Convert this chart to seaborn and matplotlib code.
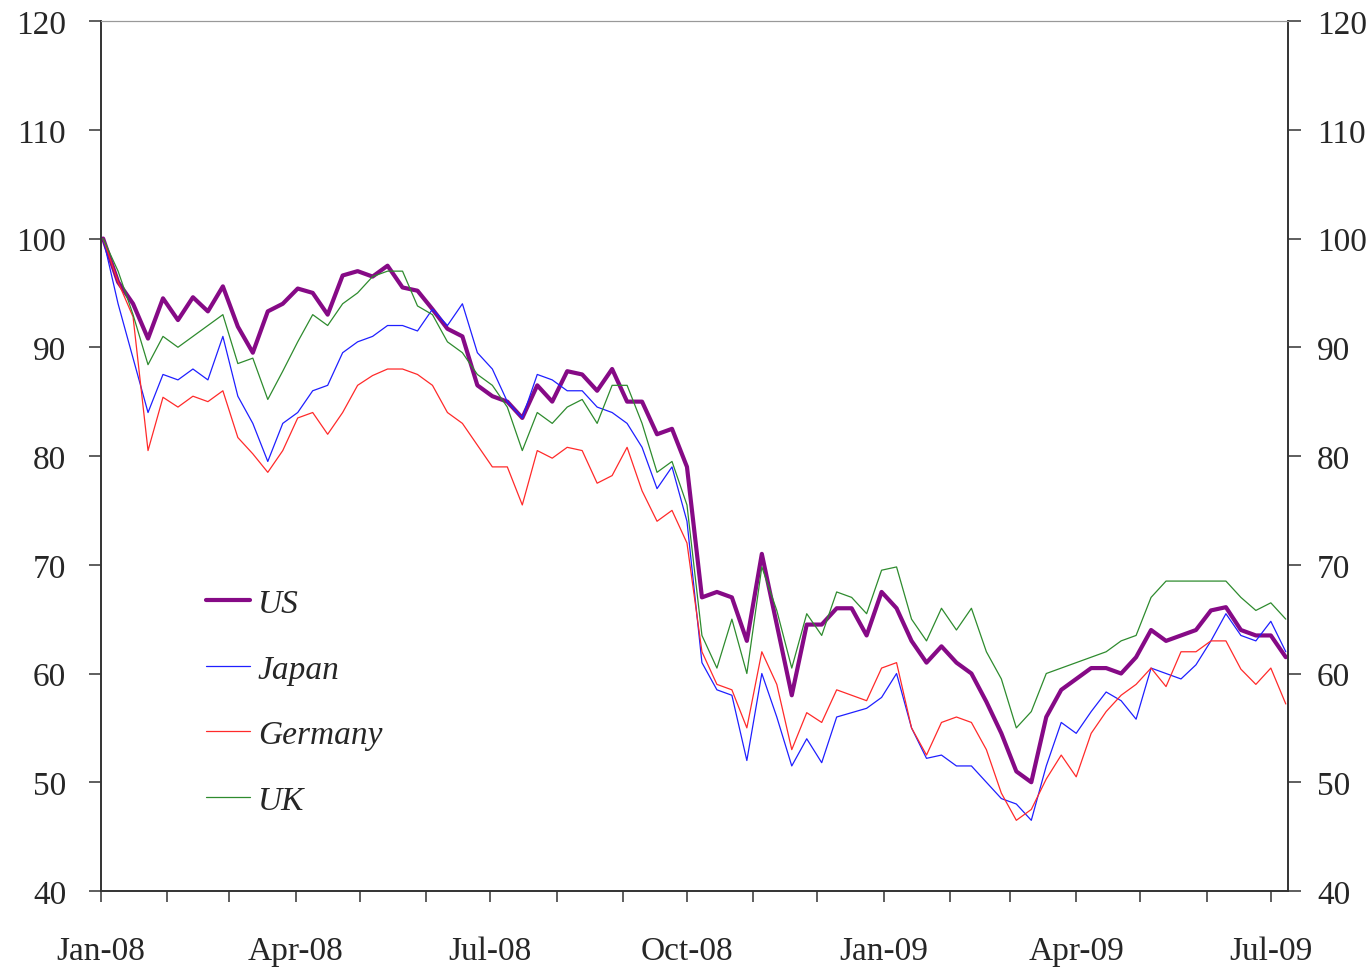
import numpy as np
import pandas as pd
import matplotlib
matplotlib.use("Agg")
import matplotlib.pyplot as plt
import matplotlib.dates as mdates
import seaborn as sns

# weekly readings, index 2 Jan 2008 = 100
dates = pd.date_range("2008-01-02", periods=80, freq="7D")

us = [100, 96, 94, 90.8, 94.5, 92.5, 94.6, 93.3, 95.6, 91.9, 89.5, 93.3, 94, 95.4,
      95, 93, 96.6, 97, 96.5, 97.5, 95.5, 95.2, 93.5, 91.7, 91, 86.5, 85.5,
      85, 83.5, 86.5, 85, 87.8, 87.5, 86, 88, 85, 85, 82, 82.5, 79,
      67, 67.5, 67, 63, 71, 64.5, 58, 64.5, 64.5, 66, 66, 63.5, 67.5,
      66, 63, 61, 62.5, 61, 60, 57.4, 54.5, 51, 50, 56, 58.5, 59.5,
      60.5, 60.5, 60, 61.5, 64, 63, 63.5, 64, 65.8, 66.1, 64, 63.5, 63.5, 61.5]

japan = [100, 94, 89, 84, 87.5, 87, 88, 87, 91, 85.5, 83, 79.5, 83, 84,
         86, 86.5, 89.5, 90.5, 91, 92, 92, 91.5, 93.5, 92, 94, 89.5, 88,
         85, 83.5, 87.5, 87, 86, 86, 84.5, 84, 83, 80.8, 77, 79, 74,
         61, 58.5, 58, 52, 60, 56, 51.5, 54, 51.8, 56, 56.4, 56.8, 57.8,
         60, 55, 52.2, 52.5, 51.5, 51.5, 50, 48.5, 48, 46.5, 51.5, 55.5, 54.5,
         56.5, 58.3, 57.5, 55.8, 60.5, 60, 59.5, 60.8, 63, 65.5, 63.5, 63, 64.8, 62]

germany = [100, 96, 92.8, 80.5, 85.4, 84.5, 85.5, 85, 86, 81.7, 80.2, 78.5, 80.5, 83.5,
           84, 82, 84, 86.5, 87.4, 88, 88, 87.5, 86.5, 84, 83, 81, 79,
           79, 75.5, 80.5, 79.8, 80.8, 80.5, 77.5, 78.2, 80.8, 76.8, 74, 75, 72,
           62, 59, 58.5, 55, 62, 59, 53, 56.4, 55.5, 58.5, 58, 57.5, 60.5,
           61, 55, 52.5, 55.5, 56, 55.5, 53, 49, 46.5, 47.5, 50.3, 52.5, 50.5,
           54.5, 56.5, 58, 59, 60.5, 58.8, 62, 62, 63, 63, 60.4, 59, 60.5, 57.2]

uk = [100, 97, 93, 88.4, 91, 90, 91, 92, 93, 88.5, 89, 85.2, 87.8, 90.5,
      93, 92, 94, 95, 96.5, 97, 97, 93.8, 93, 90.5, 89.5, 87.5, 86.5,
      84.5, 80.5, 84, 83, 84.5, 85.2, 83, 86.5, 86.5, 83, 78.5, 79.5, 75.5,
      63.5, 60.5, 65, 60, 69.8, 65.8, 60.5, 65.5, 63.5, 67.5, 67, 65.5, 69.5,
      69.8, 65, 63, 66, 64, 66, 62, 59.5, 55, 56.5, 60, 60.5, 61,
      61.5, 62, 63, 63.5, 67, 68.5, 68.5, 68.5, 68.5, 68.5, 67, 65.8, 66.5, 65]

series = {"US": us, "Japan": japan, "Germany": germany, "UK": uk}
colors = {"US": "#860a86", "Japan": "#1f1fff", "Germany": "#ff2a2a", "UK": "#2e8b2e"}
widths = {"US": 3.0, "Japan": 0.9, "Germany": 0.9, "UK": 0.9}

sns.set_style("ticks")
plt.rcParams["font.family"] = ["Liberation Serif", "DejaVu Serif"]

fig = plt.figure(figsize=(13.7, 9.7), dpi=100)
ax = fig.add_axes([0.0737, 0.0804, 0.8664, 0.8969])

for name, vals in series.items():
    sns.lineplot(x=dates, y=vals, ax=ax, color=colors[name],
                 linewidth=widths[name], label=name)

ax.set_ylim(40, 120)
ax.set_yticks(np.arange(40, 121, 10))
ax.set_xlim(pd.Timestamp("2008-01-01"), pd.Timestamp("2009-07-09"))
ax.xaxis.set_major_locator(mdates.MonthLocator(bymonth=[1, 4, 7, 10]))
ax.xaxis.set_major_formatter(mdates.DateFormatter("%b-%y"))
ax.xaxis.set_minor_locator(mdates.MonthLocator())
ax.set_xlabel("")
ax.set_ylabel("")

ax2 = ax.twinx()
ax2.set_ylim(40, 120)
ax2.set_yticks(np.arange(40, 121, 10))

for a in (ax, ax2):
    for s in a.spines.values():
        s.set_color("#333333")
        s.set_linewidth(1.2)
    a.spines["top"].set_color("#999999")
    a.spines["top"].set_linewidth(0.8)

ax.tick_params(axis="x", which="both", direction="out", length=8, width=1.1,
               color="#333333", labelsize=24, pad=24)
ax.tick_params(axis="y", direction="out", length=9, width=1.1,
               color="#333333", labelsize=24, pad=16)
ax2.tick_params(axis="y", direction="out", length=9, width=1.1,
                color="#333333", labelsize=24, pad=12)

leg = ax.legend(loc="upper left", bbox_to_anchor=(0.0775, 0.363), frameon=False,
                prop={"family": "Liberation Serif", "style": "italic", "size": 24},
                handlelength=1.3, handletextpad=0.25, labelspacing=1.05,
                borderaxespad=0)

fig.savefig("out.png", dpi=100)
